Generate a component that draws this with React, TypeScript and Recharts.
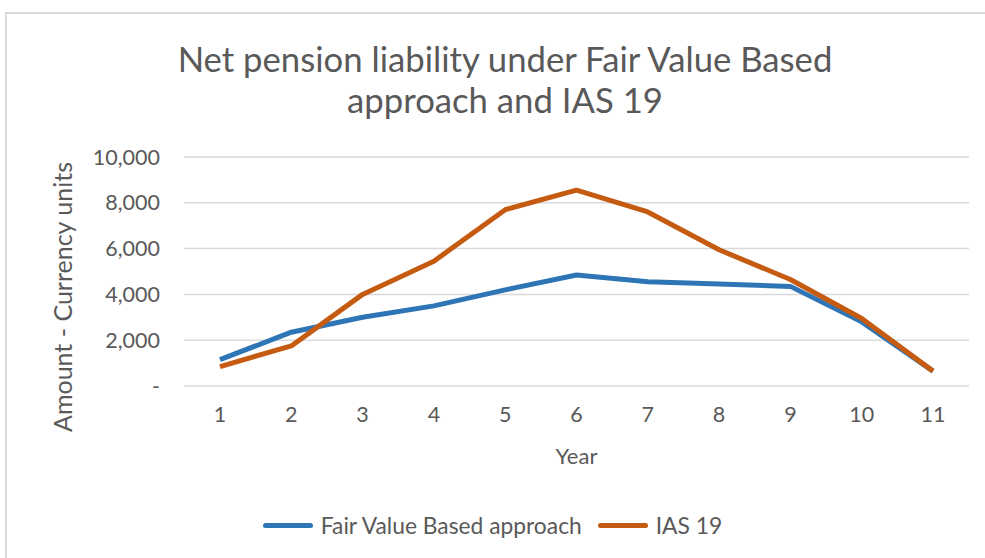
import { CartesianGrid, Line, LineChart, XAxis, YAxis } from "recharts";

const years = ["1", "2", "3", "4", "5", "6", "7", "8", "9", "10", "11"];
const fairValue = [1150, 2350, 3000, 3500, 4200, 4850, 4550, 4450, 4350, 2800, 650];
const ias19 = [850, 1750, 4000, 5450, 7700, 8550, 7600, 5950, 4650, 2950, 650];
const yTicks = [0, 2000, 4000, 6000, 8000, 10000];

const series = [
  { key: "fair", name: "Fair Value Based approach", color: "#2E75B6", values: fairValue },
  { key: "ias", name: "IAS 19", color: "#C55A11", values: ias19 },
];

const data = years.map((y, i) => ({ year: y, fair: fairValue[i], ias: ias19[i] }));

const FONT = "Lato, 'Open Sans', sans-serif";
const GREY = "#595959";

const fmtTick = (v: number) => (v === 0 ? "-" : v.toLocaleString("en-US"));

// axis title drawn at a fixed spot left of the tick labels
const YTitle = () => (
  <text
    x={62}
    y={297}
    transform="rotate(-90, 62, 297)"
    textAnchor="middle"
    dominantBaseline="central"
    fontSize={25}
    fill={GREY}
    fontFamily={FONT}
  >
    Amount - Currency units
  </text>
);

export default function App() {
  return (
    <div
      style={{
        position: "absolute",
        left: 0,
        top: 0,
        width: 985,
        height: 558,
        background: "#fff",
        overflow: "hidden",
        fontFamily: FONT,
      }}
    >
      {/* chart frame */}
      <div
        style={{
          position: "absolute",
          left: 5,
          top: 12,
          width: 1000,
          height: 600,
          border: "2px solid #d9d9d9",
        }}
      />
      <div
        style={{
          position: "absolute",
          left: 0,
          top: 38,
          width: 1010,
          textAlign: "center",
          fontSize: 34.7,
          lineHeight: "41px",
          color: GREY,
        }}
      >
        Net pension liability under Fair Value Based
        <br />
        approach and IAS 19
      </div>
      <div style={{ position: "absolute", left: 0, top: 0 }}>
        <LineChart
          width={985}
          height={558}
          data={data}
          margin={{ top: 157, right: 16, bottom: 172 - 90, left: 84 }}
        >
          <CartesianGrid stroke="#d9d9d9" strokeWidth={1.5} vertical={false} />
          <XAxis
            dataKey="year"
            tickLine={false}
            axisLine={false}
            height={90}
            padding={{ left: 36, right: 36 }}
            tick={{ fontSize: 21.5, fill: GREY, fontFamily: FONT }}
            tickMargin={15}
            label={{
              value: "Year",
              position: "insideBottom",
              offset: 12,
              fontSize: 22,
              fill: GREY,
              fontFamily: FONT,
            }}
          />
          <YAxis
            width={100}
            domain={[0, 10000]}
            ticks={yTicks}
            tickFormatter={fmtTick}
            tickLine={false}
            axisLine={false}
            tickMargin={18}
            tick={{ fontSize: 21.5, fill: GREY, fontFamily: FONT }}
            label={<YTitle />}
          />
          {series.map((s) => (
            <Line
              key={s.key}
              dataKey={s.key}
              name={s.name}
              stroke={s.color}
              strokeWidth={5}
              dot={false}
              strokeLinejoin="round"
              isAnimationActive={false}
            />
          ))}
        </LineChart>
      </div>
      <div
        style={{
          position: "absolute",
          left: 0,
          top: 511,
          width: 985,
          display: "flex",
          justifyContent: "center",
          gap: 16,
          fontSize: 22.8,
          color: GREY,
        }}
      >
        {series.map((s) => (
          <div key={s.key} style={{ display: "flex", alignItems: "center" }}>
            <span
              style={{
                display: "inline-block",
                width: 50,
                height: 5,
                borderRadius: 3,
                background: s.color,
                marginRight: 8,
              }}
            />
            <span>{s.name}</span>
          </div>
        ))}
      </div>
    </div>
  );
}
